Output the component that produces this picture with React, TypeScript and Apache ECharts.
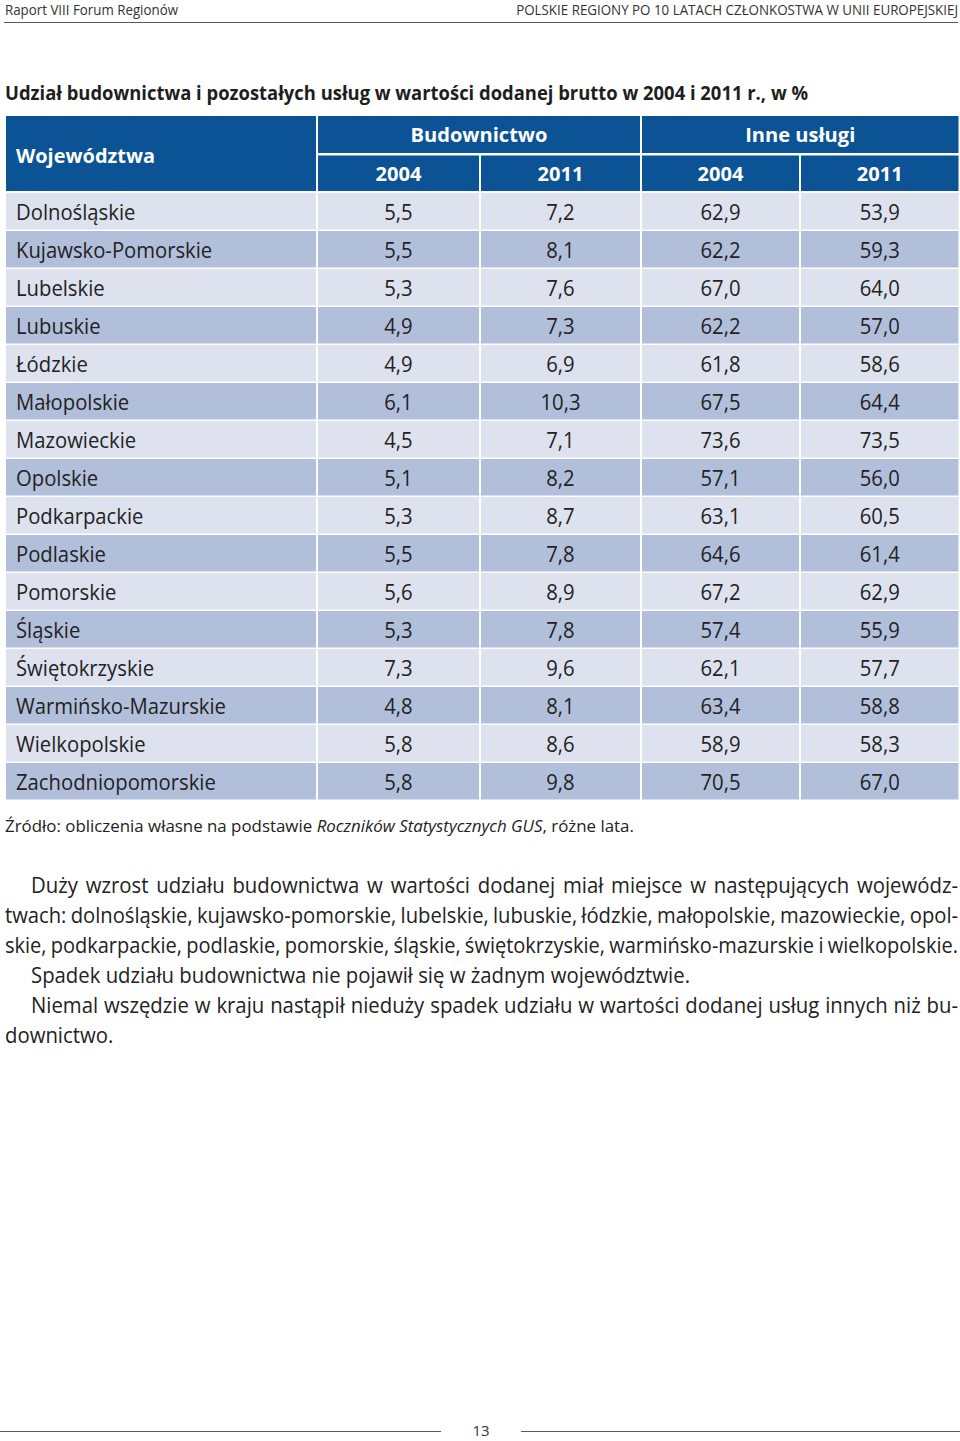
import React, { useEffect, useRef } from 'react';
import * as echarts from 'echarts';

// ---------- DATA ----------
const headerLeft = 'Raport VIII Forum Regionów';
const headerRight = 'POLSKIE REGIONY PO 10 LATACH CZŁONKOSTWA W UNII EUROPEJSKIEJ';
const title = 'Udział budownictwa i pozostałych usług w wartości dodanej brutto w 2004 i 2011 r., w %';
const rowHeader = 'Województwa';
const groups = ['Budownictwo', 'Inne usługi'];
const years = ['2004', '2011', '2004', '2011'];
const regions = [
  'Dolnośląskie', 'Kujawsko-Pomorskie', 'Lubelskie', 'Lubuskie', 'Łódzkie', 'Małopolskie',
  'Mazowieckie', 'Opolskie', 'Podkarpackie', 'Podlaskie', 'Pomorskie', 'Śląskie',
  'Świętokrzyskie', 'Warmińsko-Mazurskie', 'Wielkopolskie', 'Zachodniopomorskie',
];
const bud2004 = [5.5, 5.5, 5.3, 4.9, 4.9, 6.1, 4.5, 5.1, 5.3, 5.5, 5.6, 5.3, 7.3, 4.8, 5.8, 5.8];
const bud2011 = [7.2, 8.1, 7.6, 7.3, 6.9, 10.3, 7.1, 8.2, 8.7, 7.8, 8.9, 7.8, 9.6, 8.1, 8.6, 9.8];
const inne2004 = [62.9, 62.2, 67.0, 62.2, 61.8, 67.5, 73.6, 57.1, 63.1, 64.6, 67.2, 57.4, 62.1, 63.4, 58.9, 70.5];
const inne2011 = [53.9, 59.3, 64.0, 57.0, 58.6, 64.4, 73.5, 56.0, 60.5, 61.4, 62.9, 55.9, 57.7, 58.8, 58.3, 67.0];
const sourceParts = ['Źródło: obliczenia własne na podstawie ', 'Roczników Statystycznych GUS', ', różne lata.'];
const bodyLines = [
  { text: 'Duży wzrost udziału budownictwa w wartości dodanej miał miejsce w następujących wojewódz-', indent: true, justify: true },
  { text: 'twach: dolnośląskie, kujawsko-pomorskie, lubelskie, lubuskie, łódzkie, małopolskie, mazowieckie, opol-', indent: false, justify: true },
  { text: 'skie, podkarpackie, podlaskie, pomorskie, śląskie, świętokrzyskie, warmińsko-mazurskie i wielkopolskie.', indent: false, justify: true },
  { text: 'Spadek udziału budownictwa nie pojawił się w żadnym województwie.', indent: true, justify: false },
  { text: 'Niemal wszędzie w kraju nastąpił nieduży spadek udziału w wartości dodanej usług innych niż bu-', indent: true, justify: true },
  { text: 'downictwo.', indent: false, justify: false },
];
const pageNumber = '13';

// ---------- STYLE / LAYOUT ----------
const FAMILY = 'Open Sans';
const BLUE = '#0b5394';
const ROW_LIGHT = '#dde2ee';
const ROW_DARK = '#b2bfdb';
const TEXT = '#222222';

const colX = [6, 318, 481, 642, 801, 958.5]; // column left edges + right edge
const colGap = 2;
const headTop = 116;
const head1H = 37;
const head2Top = 155.5;
const head2H = 35.5;
const rowTop0 = 193;
const rowPitch = 38;
const rowH = 36.5;

let _ctx: CanvasRenderingContext2D | null = null;
function measure(text: string, size: number, weight = 'normal', fstyle = 'normal') {
  if (!_ctx) _ctx = document.createElement('canvas').getContext('2d');
  _ctx!.font = `${fstyle} ${weight} ${size}px "${FAMILY}"`;
  return _ctx!.measureText(text).width;
}

function fmt(v: number) {
  return v.toFixed(1).replace('.', ',');
}

function T(text: string, x: number, y: number, o: any = {}) {
  const align = o.align || 'left';
  return {
    type: 'text',
    x,
    y,
    scaleX: o.sx ?? 1,
    silent: true,
    style: {
      text,
      fill: o.color || TEXT,
      fontSize: o.size || 20,
      fontFamily: FAMILY,
      fontWeight: o.weight || 'normal',
      fontStyle: o.fstyle || 'normal',
      align,
      verticalAlign: 'middle',
      textAlign: align,
      textVerticalAlign: 'middle',
    },
  };
}

function buildGraphics() {
  const els: any[] = [];

  // page header
  const hlS = 14;
  els.push(T(headerLeft, 5, 9, { size: hlS, color: '#333', sx: 173 / measure(headerLeft, hlS) }));
  els.push(T(headerRight, 958, 9, { size: hlS, color: '#333', align: 'right', sx: 442 / measure(headerRight, hlS) }));
  els.push({ type: 'line', silent: true, shape: { x1: 4, y1: 22.5, x2: 958, y2: 22.5 }, style: { stroke: '#5a5a5a', lineWidth: 1.2 } });

  // title
  const tS = 20;
  els.push(T(title, 5, 92, { size: tS, weight: 'bold', color: '#1e1e1e', sx: 803 / measure(title, tS, 'bold') }));

  // table header
  const hS = 20;
  els.push({ type: 'rect', silent: true, shape: { x: colX[0], y: headTop, width: colX[1] - colGap - colX[0], height: head2Top + head2H - headTop }, style: { fill: BLUE } });
  els.push(T(rowHeader, 16, 155, { size: hS, weight: 'bold', color: '#fff', sx: 139 / measure(rowHeader, hS, 'bold') }));
  const headSx = 137 / measure(groups[0], hS, 'bold');
  groups.forEach((g, gi) => {
    const x0 = colX[1 + gi * 2];
    const x1 = colX[3 + gi * 2] - (gi === 1 ? 0 : colGap);
    els.push({ type: 'rect', silent: true, shape: { x: x0, y: headTop, width: x1 - x0, height: head1H }, style: { fill: BLUE } });
    els.push(T(g, (x0 + x1) / 2, 135, { size: hS, weight: 'bold', color: '#fff', align: 'center', sx: headSx }));
  });
  years.forEach((yr, ci) => {
    const x0 = colX[1 + ci];
    const x1 = colX[2 + ci] - (ci === 3 ? 0 : colGap);
    els.push({ type: 'rect', silent: true, shape: { x: x0, y: head2Top, width: x1 - x0, height: head2H }, style: { fill: BLUE } });
    els.push(T(yr, (x0 + x1) / 2, 174, { size: hS, weight: 'bold', color: '#fff', align: 'center', sx: headSx }));
  });

  // table body
  const bS = 21;
  const bodySx = 200 / measure('Zachodniopomorskie', bS);
  const cols = [bud2004, bud2011, inne2004, inne2011];
  regions.forEach((name, ri) => {
    const top = rowTop0 + ri * rowPitch;
    const fill = ri % 2 === 0 ? ROW_LIGHT : ROW_DARK;
    const cy = top + rowH / 2 + 0.5;
    for (let c = 0; c < 5; c++) {
      const x0 = colX[c];
      const x1 = colX[c + 1] - (c === 4 ? 0 : colGap);
      els.push({ type: 'rect', silent: true, shape: { x: x0, y: top, width: x1 - x0, height: rowH }, style: { fill } });
    }
    els.push(T(name, 16, cy, { size: bS, sx: bodySx }));
    cols.forEach((arr, ci) => {
      const x0 = colX[1 + ci];
      const x1 = colX[2 + ci] - (ci === 3 ? 0 : colGap);
      els.push(T(fmt(arr[ri]), (x0 + x1) / 2, cy, { size: bS, align: 'center', sx: bodySx }));
    });
  });

  // source line (rich text)
  const sS = 16;
  const sW = measure(sourceParts[0], sS) + measure(sourceParts[1], sS, 'normal', 'italic') + measure(sourceParts[2], sS);
  els.push({
    type: 'text',
    x: 5,
    y: 826,
    scaleX: 629 / sW,
    silent: true,
    style: {
      text: `{a|${sourceParts[0]}}{b|${sourceParts[1]}}{a|${sourceParts[2]}}`,
      align: 'left',
      verticalAlign: 'middle',
      textAlign: 'left',
      textVerticalAlign: 'middle',
      rich: {
        a: { fontSize: sS, fontFamily: FAMILY, fill: TEXT, color: TEXT },
        b: { fontSize: sS, fontFamily: FAMILY, fontStyle: 'italic', fill: TEXT, color: TEXT },
      },
    },
  });

  // body paragraph (justified, word by word)
  const pS = 21;
  const pSx = 659 / measure(bodyLines[3].text, pS);
  const spaceW = measure(' ', pS) * pSx;
  const minGap = spaceW * 0.8;
  bodyLines.forEach((ln, li) => {
    const y = 885 + li * 30;
    const x0 = ln.indent ? 31 : 5;
    const words = ln.text.split(' ');
    const raw = words.map((w) => measure(w, pS));
    const rawTotal = raw.reduce((a, b) => a + b, 0);
    const avail = 958 - x0;
    let sx = pSx;
    if (ln.justify && rawTotal * sx + minGap * (words.length - 1) > avail) {
      sx = (avail - minGap * (words.length - 1)) / rawTotal;
    }
    const widths = raw.map((w) => w * sx);
    const total = widths.reduce((a, b) => a + b, 0);
    const gap = ln.justify && words.length > 1 ? (avail - total) / (words.length - 1) : spaceW;
    let x = x0;
    words.forEach((w, wi) => {
      els.push(T(w, x, y, { size: pS, sx, color: '#222' }));
      x += widths[wi] + gap;
    });
  });

  // footer
  els.push({ type: 'line', silent: true, shape: { x1: 0, y1: 1431.5, x2: 441, y2: 1431.5 }, style: { stroke: '#5a5a5a', lineWidth: 1.2 } });
  els.push({ type: 'line', silent: true, shape: { x1: 521, y1: 1431.5, x2: 960, y2: 1431.5 }, style: { stroke: '#5a5a5a', lineWidth: 1.2 } });
  els.push(T(pageNumber, 481, 1430, { size: 15, align: 'center', color: '#333' }));

  return els;
}

export default function App() {
  const ref = useRef<HTMLDivElement>(null);
  useEffect(() => {
    if (!ref.current) return;
    const chart = echarts.init(ref.current, null, { renderer: 'svg' });
    chart.setOption({
      animation: false,
      backgroundColor: '#ffffff',
      graphic: { elements: buildGraphics() },
    });
    return () => chart.dispose();
  }, []);
  return (
    <div
      ref={ref}
      style={{ position: 'absolute', left: 0, top: 0, width: 960, height: 1441, background: '#fff' }}
    />
  );
}
